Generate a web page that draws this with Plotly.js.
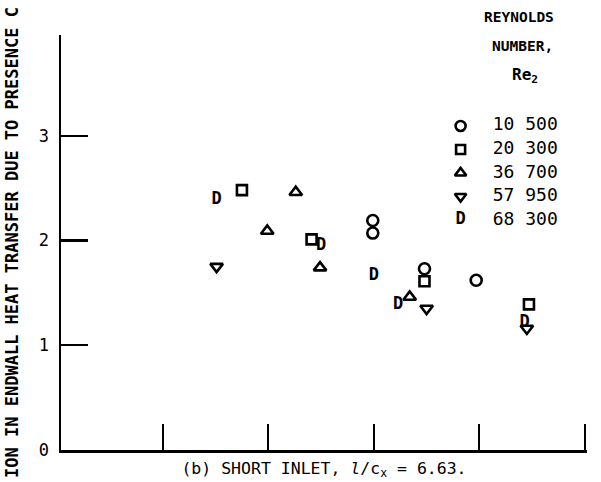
<!DOCTYPE html>
<html>
<head>
<meta charset="utf-8">
<script src="https://cdn.plot.ly/plotly-3.0.1.min.js"></script>
<style>html,body{margin:0;padding:0;background:#fff;}#chart{width:601px;height:482px;}</style>
</head>
<body>
<div id="chart"></div>
<script>
// Reynolds number series labels (legend)
const reLabels = ["10 500", "20 300", "36 700", "57 950", "68 300"];
// Series values (x in axis units, ticks at 1..5 unlabeled)
const xRe10500 = [2.99, 2.99, 3.48, 3.97];
const yRe10500 = [2.19, 2.07, 1.73, 1.62];
const xRe20300 = [1.75, 2.41, 3.48, 4.47];
const yRe20300 = [2.48, 2.01, 1.61, 1.39];
const xRe36700 = [2.26, 1.99, 2.49, 3.34];
const yRe36700 = [2.46, 2.09, 1.74, 1.46];
const xRe57950 = [1.51, 3.50, 4.45];
const yRe57950 = [1.75, 1.35, 1.16];
const xRe68300 = [1.51, 2.50, 3.00, 3.23, 4.43];
const yRe68300 = [2.39, 1.95, 1.66, 1.39, 1.21];
const yTickVals = [0, 1, 2, 3];
const xTickVals = [1, 2, 3, 4, 5];

const FONT = '"DejaVu Sans Mono", "Liberation Mono", monospace';
const markerLine = {width: 2.6};

function symTrace(x, y, symbol, size, xa, ya) {
  return {x: x, y: y, type: 'scatter', mode: 'markers', xaxis: xa || 'x', yaxis: ya || 'y',
    marker: {symbol: symbol, size: size, color: '#000', line: markerLine},
    hoverinfo: 'skip', showlegend: false, cliponaxis: false};
}
function dTrace(x, y, xa, ya) {
  return {x: x, y: y, type: 'scatter', mode: 'text', xaxis: xa || 'x', yaxis: ya || 'y',
    text: x.map(() => 'D'), textposition: 'middle center',
    textfont: {family: FONT, size: 17, color: '#000', weight: 'bold'},
    hoverinfo: 'skip', showlegend: false, cliponaxis: false};
}

const symbols = ['circle-open', 'square-open', 'triangle-up-open', 'triangle-down-open'];
const sizes = [11, 10, 11, 11];

const traces = [
  symTrace(xRe10500, yRe10500, symbols[0], sizes[0]),
  symTrace(xRe20300, yRe20300, symbols[1], sizes[1]),
  symTrace(xRe36700, yRe36700, symbols[2], sizes[2]),
  symTrace(xRe57950, yRe57950, symbols[3], sizes[3]),
  dTrace(xRe68300, yRe68300)
];

// Legend drawn on an overlay axis pair: column 0 = symbol, column 1 = label (right aligned)
for (let i = 0; i < 4; i++) {
  traces.push(symTrace([0], [reLabels[i]], symbols[i], sizes[i] - 1, 'x2', 'y2'));
}
traces.push(dTrace([0], [reLabels[4]], 'x2', 'y2'));
traces.push({x: reLabels.map(() => 1), y: reLabels, type: 'scatter', mode: 'text', xaxis: 'x2', yaxis: 'y2',
  text: reLabels, textposition: 'middle left',
  textfont: {family: FONT, size: 18, color: '#000'}, hoverinfo: 'skip', showlegend: false, cliponaxis: false});

const layout = {
  width: 601, height: 482,
  margin: {l: 61, r: 14, t: 35, b: 32},
  paper_bgcolor: '#fff', plot_bgcolor: '#fff',
  showlegend: false,
  font: {family: FONT, color: '#000', size: 16},
  xaxis: {
    range: [0.0355, 5.02], showgrid: false, zeroline: false,
    showline: true, linecolor: '#000', linewidth: 2.5,
    ticks: 'inside', ticklen: 26, tickwidth: 2.2, tickcolor: '#000',
    tickvals: xTickVals, showticklabels: false,
    title: {text: '(b) SHORT INLET, <i>l</i>/c<sub>x</sub> = 6.63.', font: {family: FONT, size: 16.5, color: '#000'}, standoff: 11}
  },
  yaxis: {
    range: [0, 3.96], showgrid: false, zeroline: false,
    showline: true, linecolor: '#000', linewidth: 2.5,
    ticks: 'inside', ticklen: 27, tickwidth: 2.2, tickcolor: '#000',
    tickvals: yTickVals, ticktext: yTickVals.map(String), ticklabelstandoff: 6,
    tickfont: {family: FONT, size: 17, color: '#000'},
    title: {text: 'ION IN ENDWALL HEAT TRANSFER DUE TO PRESENCE C', font: {family: FONT, size: 17, color: '#000', weight: 'bold'}, standoff: 16}
  },
  xaxis2: {overlaying: 'x', range: [-4.113, 1.301], visible: false, fixedrange: true},
  yaxis2: {overlaying: 'y', type: 'category', categoryarray: reLabels, range: [13.787, -3.872], visible: false, fixedrange: true},
  annotations: [
    {text: 'REYNOLDS', xref: 'paper', yref: 'paper', x: 0.8705, y: 1 + (35 - 17) / 415, xanchor: 'center', yanchor: 'middle', showarrow: false, font: {family: FONT, size: 14.5, color: '#000', weight: 'bold'}},
    {text: 'NUMBER,', xref: 'paper', yref: 'paper', x: 0.878, y: 1 + (35 - 46) / 415, xanchor: 'center', yanchor: 'middle', showarrow: false, font: {family: FONT, size: 14.5, color: '#000', weight: 'bold'}},
    {text: 'Re<sub>2</sub>', xref: 'paper', yref: 'paper', x: 0.882, y: 1 + (35 - 75) / 415, xanchor: 'center', yanchor: 'middle', showarrow: false, font: {family: FONT, size: 16, color: '#000', weight: 'bold'}}
  ]
};

Plotly.newPlot('chart', traces, layout, {staticPlot: true, displayModeBar: false});
</script>
</body>
</html>
